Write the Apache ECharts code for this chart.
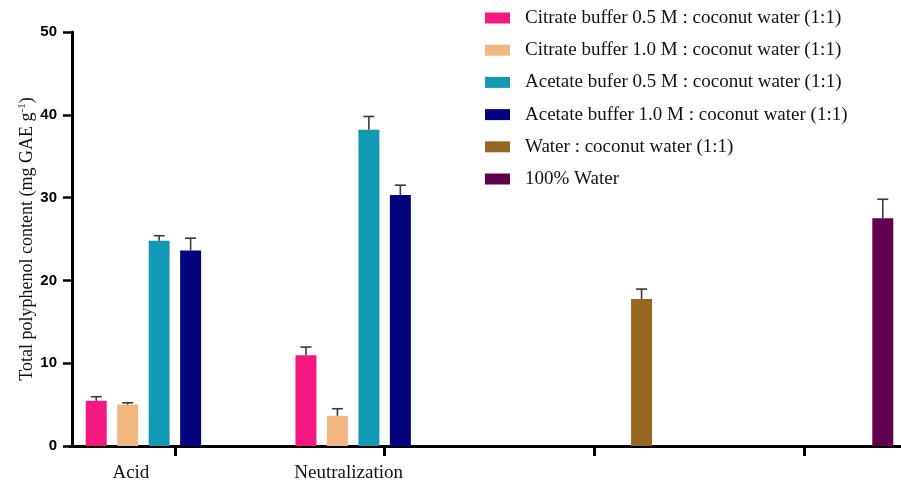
<!DOCTYPE html>
<html>
<head>
<meta charset="utf-8">
<script src="https://cdn.jsdelivr.net/npm/echarts@6/dist/echarts.min.js"></script>
<style>html,body{margin:0;padding:0;background:#fff}#c{width:901px;height:483px}</style>
</head>
<body>
<div id="c"></div>
<script>
const categories = ['Acid', 'Neutralization', '', ''];
const seriesNames = [
  'Citrate buffer 0.5 M : coconut water (1:1)',
  'Citrate buffer 1.0 M : coconut water (1:1)',
  'Acetate bufer 0.5 M : coconut water (1:1)',
  'Acetate buffer 1.0 M : coconut water (1:1)',
  'Water : coconut water (1:1)',
  '100% Water'
];
const citrate05 = [5.45, 10.95, '-', '-'];
const citrate05Err = [0.5, 1.0, 0, 0];
const citrate10 = [5.0, 3.65, '-', '-'];
const citrate10Err = [0.22, 0.85, 0, 0];
const acetate05 = [24.8, 38.2, '-', '-'];
const acetate05Err = [0.6, 1.6, 0, 0];
const acetate10 = [23.6, 30.3, '-', '-'];
const acetate10Err = [1.5, 1.2, 0, 0];
const waterCoco = ['-', '-', 17.75, '-'];
const waterCocoErr = [0, 0, 1.2, 0];
const water100 = ['-', '-', '-', 27.5];
const water100Err = [0, 0, 0, 2.3];
const yTicks = [0, 10, 20, 30, 40, 50];

const values = [citrate05, citrate10, acetate05, acetate10, waterCoco, water100];
const errors = [citrate05Err, citrate10Err, acetate05Err, acetate10Err, waterCocoErr, water100Err];
const colors = ['#F5187F', '#F2B680', '#1399B4', '#03037F', '#976620', '#61004F'];

const BAR_FRAC = 0.10, GAP_FRAC = 0.05, N = 6;
const serif = '"Liberation Serif", "Times New Roman", serif';

const series = [];
values.forEach((vals, i) => {
  series.push({
    name: seriesNames[i],
    type: 'bar',
    data: vals,
    barWidth: (BAR_FRAC * 100) + '%',
    barGap: (GAP_FRAC / BAR_FRAC * 100) + '%',
    itemStyle: { color: colors[i] },
    z: 2
  });
});
values.forEach((vals, i) => {
  const d = [];
  vals.forEach((v, k) => { if (v !== '-') d.push([k, v, errors[i][k]]); });
  series.push({
    name: 'err' + i,
    type: 'custom',
    z: 5,
    data: d,
    encode: { x: 0, y: 1 },
    renderItem: function (params, api) {
      const cat = api.value(0), v = api.value(1), e = api.value(2);
      const base = api.coord([cat, v]);
      const top = api.coord([cat, v + e]);
      const band = api.size([1, 0])[0];
      const off = (i - (N - 1) / 2) * (BAR_FRAC + GAP_FRAC) * band;
      const x = base[0] + off;
      const style = { stroke: '#3a3a3a', lineWidth: 1.6, fill: null };
      return {
        type: 'group',
        children: [
          { type: 'line', shape: { x1: x, y1: base[1], x2: x, y2: top[1] }, style: style },
          { type: 'line', shape: { x1: x - 5.5, y1: top[1], x2: x + 5.5, y2: top[1] }, style: style }
        ]
      };
    }
  });
});

const labelPad = { 'Acid': 88, 'Neutralization': 72 };

const chart = echarts.init(document.getElementById('c'));
chart.setOption({
  animation: false,
  backgroundColor: '#ffffff',
  grid: { left: 70, right: -8, top: 32, bottom: 37, containLabel: false, outerBoundsMode: 'none' },
  legend: {
    data: seriesNames,
    orient: 'vertical',
    left: 485,
    top: 8,
    padding: 0,
    itemWidth: 25,
    itemHeight: 11,
    itemGap: 12.2,
    icon: 'rect',
    textStyle: { fontFamily: serif, fontSize: 19, color: '#111', lineHeight: 20, padding: [0, 0, 0, 10] }
  },
  xAxis: {
    type: 'category',
    data: categories,
    axisLine: { lineStyle: { color: '#000', width: 3 } },
    axisTick: { show: true, alignWithLabel: true, length: 10, lineStyle: { color: '#000', width: 3 } },
    axisLabel: {
      show: true,
      interval: 0,
      margin: 18,
      formatter: function (v) { return v ? '{' + (v === 'Acid' ? 'a' : 'n') + '|' + v + '}' : ''; },
      rich: {
        a: { fontFamily: serif, fontSize: 19, color: '#111', padding: [0, labelPad['Acid'], 0, 0] },
        n: { fontFamily: serif, fontSize: 19, color: '#111', padding: [0, labelPad['Neutralization'], 0, 0] }
      }
    }
  },
  yAxis: {
    type: 'value',
    offset: -2,
    min: yTicks[0],
    max: yTicks[yTicks.length - 1],
    interval: 10,
    name: '{t|Total polyphenol content (mg GAE g}{s|-1}{t|)}',
    nameLocation: 'middle',
    nameRotate: 90,
    nameGap: 35,
    nameMoveOverlap: false,
    nameTextStyle: {
      rich: {
        t: { fontFamily: serif, fontSize: 18, color: '#111', lineHeight: 20 },
        s: { fontFamily: serif, fontSize: 11, color: '#111', verticalAlign: 'top', padding: [0, 0, 9, 0], lineHeight: 20 }
      }
    },
    axisLine: { show: true, lineStyle: { color: '#000', width: 3 } },
    axisTick: { show: true, length: 9, lineStyle: { color: '#000', width: 2.5 } },
    splitLine: { show: false },
    axisLabel: { fontFamily: 'Arial, "Liberation Sans", sans-serif', fontWeight: 'bold', fontSize: 15, color: '#000', margin: 15 }
  },
  series: series
});
</script>
</body>
</html>
